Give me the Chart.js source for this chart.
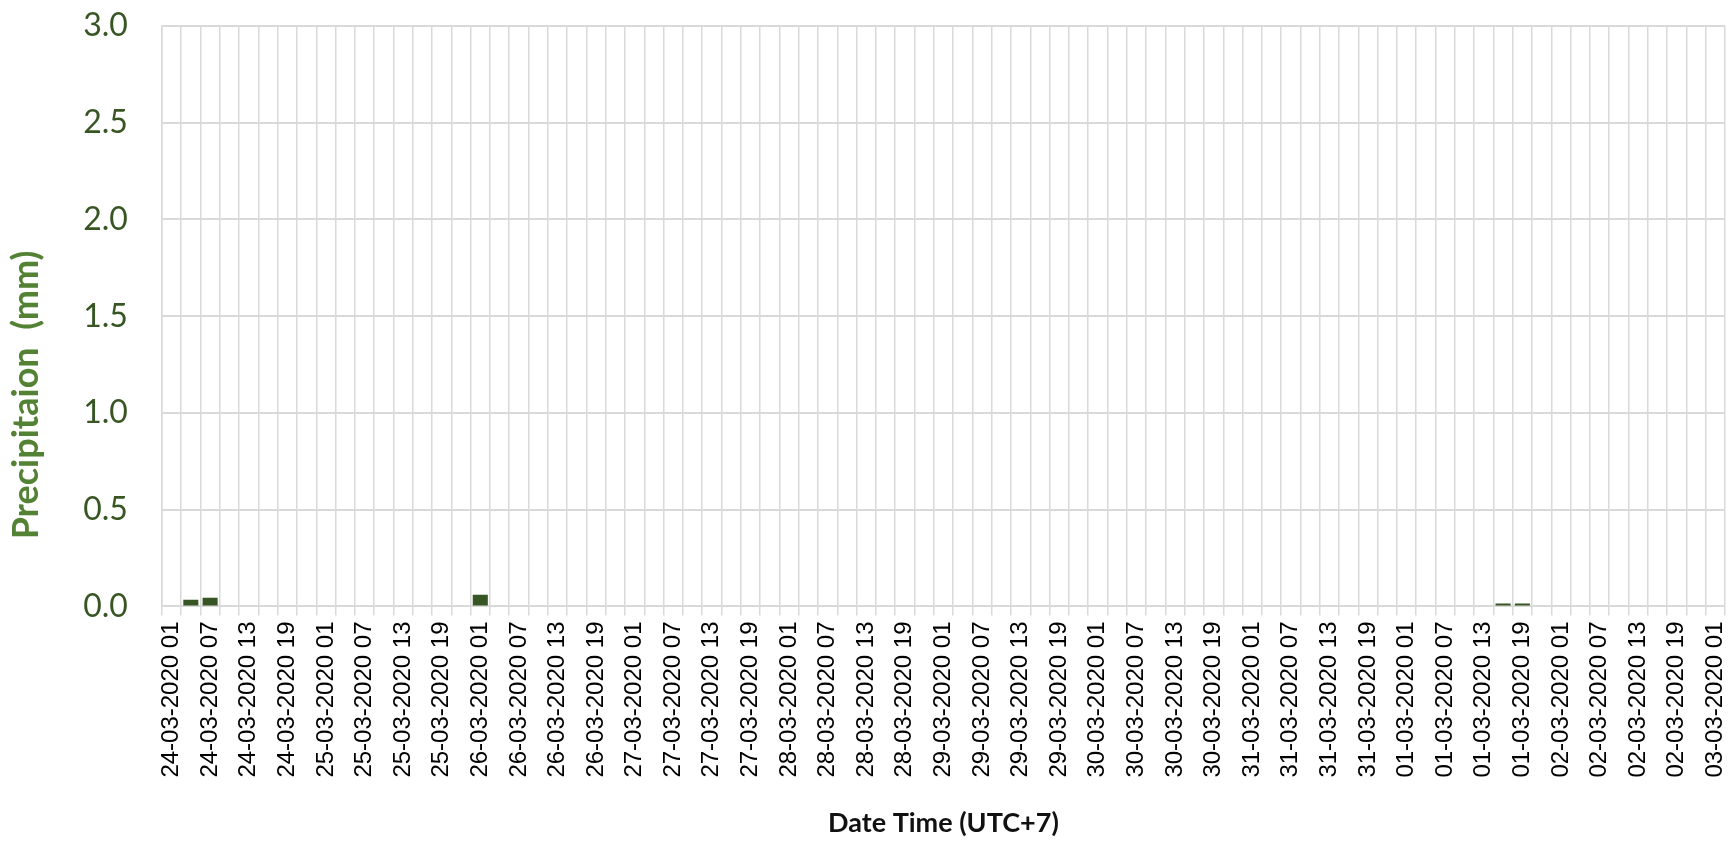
<!DOCTYPE html>
<html>
<head>
<meta charset="utf-8">
<title>Precipitation</title>
<script src="https://cdn.jsdelivr.net/npm/chart.js@4.4.1/dist/chart.umd.min.js"></script>
<style>
  html, body { margin: 0; padding: 0; background: #fff; }
  canvas { display: block; }
</style>
</head>
<body>
<canvas id="rainChart" width="1733" height="843"></canvas>
<script>
// Day part of the category labels (as written on the original axis)
const days = [
    '24-03-2020', '25-03-2020', '26-03-2020', '27-03-2020', '28-03-2020',
    '29-03-2020', '30-03-2020', '31-03-2020', '01-03-2020', '02-03-2020', '03-03-2020'
];
// 3-hourly steps within a day
const hours = ['01', '04', '07', '10', '13', '16', '19', '22'];

// Precipitation (mm), one row per day, one value per 3-hour step
const rain = [
    0, 0.035, 0.045, 0, 0, 0, 0, 0,     // 24-03
    0, 0, 0, 0, 0, 0, 0, 0,             // 25-03
    0.06, 0, 0, 0, 0, 0, 0, 0,          // 26-03
    0, 0, 0, 0, 0, 0, 0, 0,             // 27-03
    0, 0, 0, 0, 0, 0, 0, 0,             // 28-03
    0, 0, 0, 0, 0, 0, 0, 0,             // 29-03
    0, 0, 0, 0, 0, 0, 0, 0,             // 30-03
    0, 0, 0, 0, 0, 0, 0, 0,             // 31-03
    0, 0, 0, 0, 0, 0.015, 0.015, 0,     // 01-03
    0, 0, 0, 0, 0, 0, 0, 0,             // 02-03
    0                                   // 03-03 01
];

// y axis ticks
const yMin = 0;
const yMax = 3;
const yStep = 0.5;

// Build the category labels, the series ends at 03-03-2020 01
function buildLabels() {
    const labels = [];
    days.forEach(day => {
        hours.forEach(h => labels.push(`${day} ${h}`));
    });
    return labels.slice(0, rain.length);
}

const green = '#375623';
const titleGreen = '#548235';
const gridColor = '#d9d9d9';

// the axis title sits a bit below the middle of the axis in the original
const yTitle = 'Precipitaion  (mm)' + ' '.repeat(18);

let rainChart;
function initializeChart() {
    const ctx = document.getElementById('rainChart').getContext('2d');
    rainChart = new Chart(ctx, {
        type: 'bar',
        data: {
            labels: buildLabels(),
            datasets: [{
                label: 'Precipitation',
                data: rain,
                backgroundColor: green,
                borderWidth: 0,
                barPercentage: 0.78,
                categoryPercentage: 1.0
            }]
        },
        options: {
            responsive: false,
            animation: false,
            devicePixelRatio: 1,
            layout: {
                padding: { left: 5, right: 0, top: 0, bottom: 4 }
            },
            plugins: {
                legend: { display: false },
                tooltip: { enabled: false }
            },
            scales: {
                x: {
                    offset: true,
                    grid: {
                        offset: true,
                        color: gridColor,
                        lineWidth: 1.5,
                        tickLength: 9
                    },
                    border: { color: gridColor, width: 2 },
                    ticks: {
                        autoSkip: false,
                        maxRotation: 90,
                        minRotation: 90,
                        padding: 6,
                        color: '#000',
                        font: { family: '"Liberation Sans", Arial, sans-serif', size: 24 },
                        // only every other 3-hour step gets a label
                        callback: function (value, index) {
                            return index % 2 === 0 ? this.getLabelForValue(value) : '';
                        }
                    },
                    title: {
                        display: true,
                        text: 'Date Time (UTC+7)',
                        color: '#111',
                        font: { family: 'Lato, sans-serif', size: 27, weight: 'bold' },
                        padding: { top: 23, bottom: 0 }
                    },
                    // keep the plot close to the right edge
                    afterFit: scale => { scale.paddingRight = 8; }
                },
                y: {
                    min: yMin,
                    max: yMax,
                    grid: {
                        color: gridColor,
                        lineWidth: 2,
                        drawTicks: false
                    },
                    border: { color: gridColor, width: 1.5 },
                    ticks: {
                        stepSize: yStep,
                        padding: 34,
                        color: green,
                        font: { family: 'Lato, sans-serif', size: 32 },
                        callback: v => v.toFixed(1)
                    },
                    title: {
                        display: true,
                        text: yTitle,
                        color: titleGreen,
                        font: { family: 'Lato, sans-serif', size: 36, weight: 'bold' },
                        padding: { top: 0, bottom: 1 }
                    },
                    // top of the plot sits just under the 3.0 label
                    afterFit: scale => { scale.paddingTop = 26; }
                }
            }
        }
    });
}

document.addEventListener('DOMContentLoaded', () => {
    initializeChart();
});
</script>
</body>
</html>
